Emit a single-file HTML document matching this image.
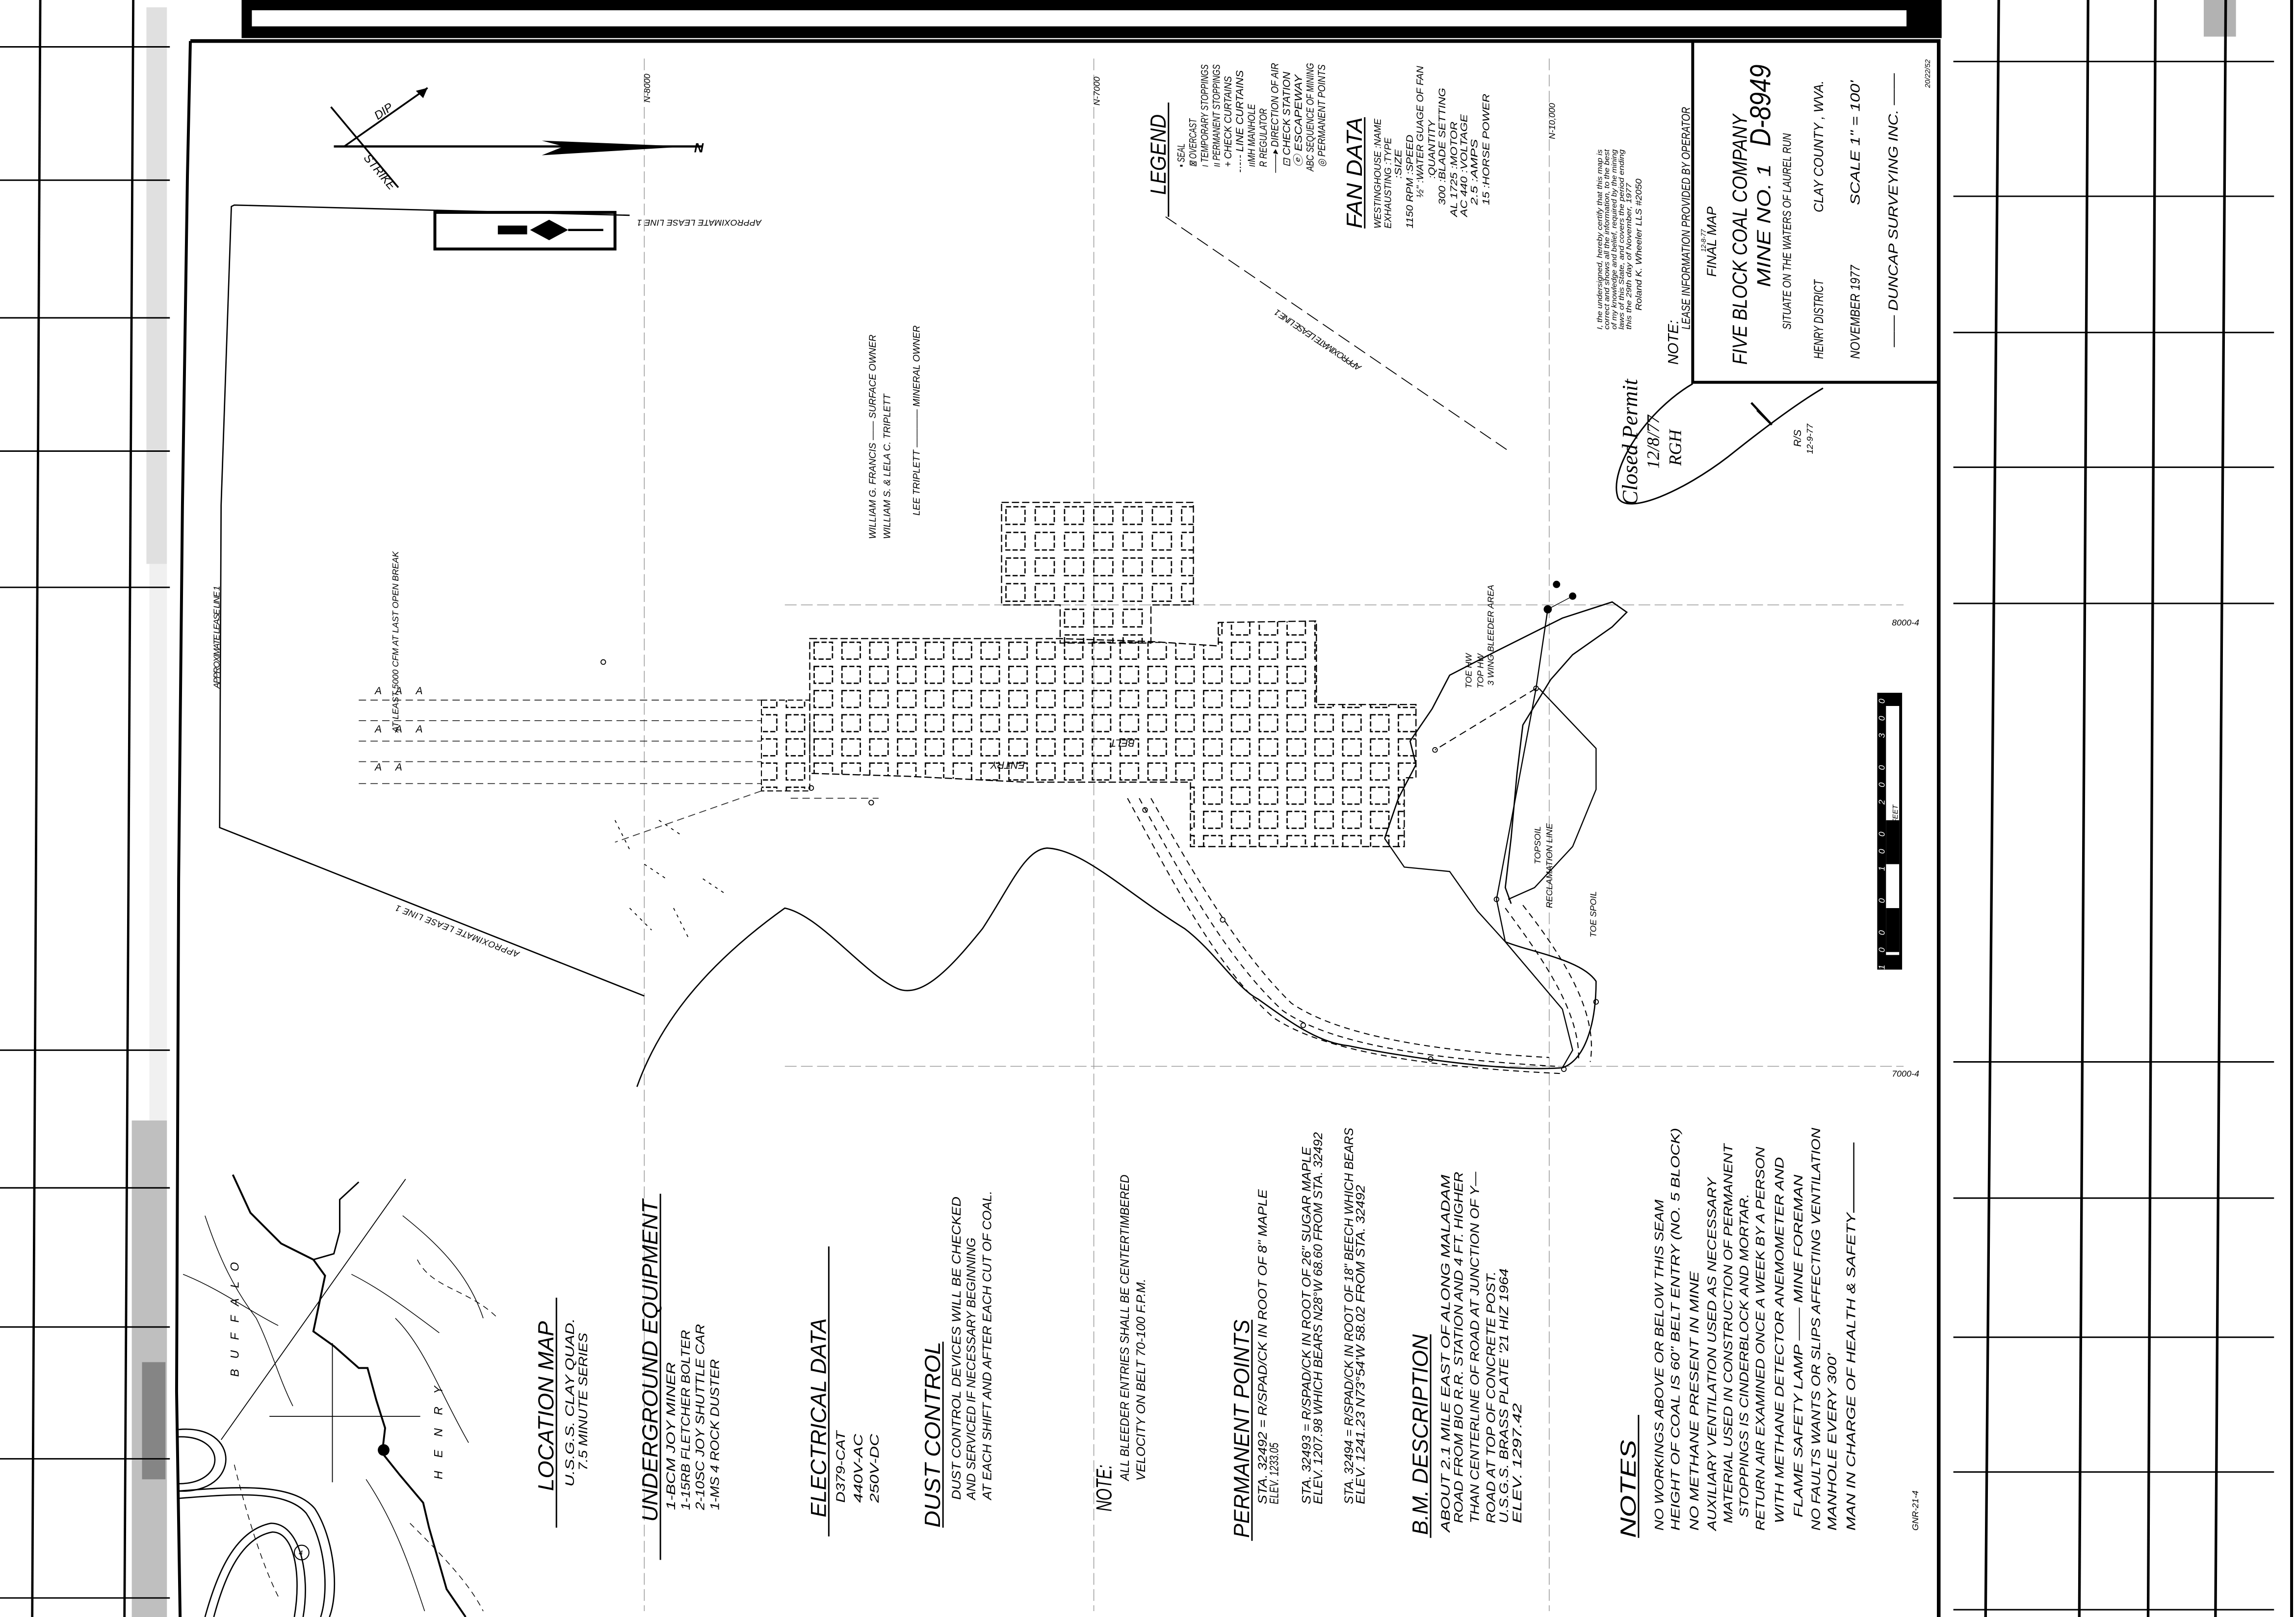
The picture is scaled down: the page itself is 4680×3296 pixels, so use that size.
<!DOCTYPE html>
<html><head><meta charset="utf-8">
<style>
html,body{margin:0;padding:0;background:#fff;}
svg{display:block;}
text{font-family:"Liberation Sans",sans-serif;font-style:italic;fill:#000;}
.h{font-size:15px;}
.b{font-size:8.5px;}
.s{font-size:6px;}
</style></head>
<body>
<svg width="4680" height="3296" viewBox="0 0 1568 1104" preserveAspectRatio="none" xmlns="http://www.w3.org/2000/svg">
<defs>
<pattern id="pil" x="553" y="436" width="19" height="16.5" patternUnits="userSpaceOnUse">
<rect x="3" y="2.5" width="12.5" height="11.5" fill="none" stroke="#000" stroke-width="0.9" stroke-dasharray="3.5 1.5"/>
</pattern>
<pattern id="pil2" x="684" y="343" width="20" height="17.5" patternUnits="userSpaceOnUse">
<rect x="3" y="3" width="13" height="12" fill="none" stroke="#000" stroke-width="0.9" stroke-dasharray="3.5 1.5"/>
</pattern>
</defs>
<rect width="1568" height="1104" fill="#fff"/>

<!-- left grid -->
<g stroke="#000" stroke-width="1.6">
<line x1="27.5" y1="0" x2="22" y2="1104"/>
<line x1="91" y1="0" x2="85" y2="1104"/>
</g>
<g stroke="#000" stroke-width="1">
<line x1="0" y1="32" x2="116" y2="32"/><line x1="0" y1="123" x2="116" y2="123"/>
<line x1="0" y1="217" x2="116" y2="217"/><line x1="0" y1="308" x2="116" y2="308"/>
<line x1="0" y1="401" x2="116" y2="401"/><line x1="0" y1="717" x2="116" y2="717"/>
<line x1="0" y1="811" x2="116" y2="811"/><line x1="0" y1="906" x2="116" y2="906"/>
<line x1="0" y1="996" x2="116" y2="996"/><line x1="0" y1="1091" x2="116" y2="1091"/>
</g>
<!-- smudge column -->
<rect x="100" y="5" width="14" height="380" fill="#000" opacity="0.12"/>
<rect x="102" y="385" width="12" height="380" fill="#000" opacity="0.06"/>
<rect x="90" y="765" width="24" height="339" fill="#000" opacity="0.25"/>
<rect x="97" y="930" width="16" height="80" fill="#000" opacity="0.3"/>

<!-- right grid -->
<g stroke="#000" stroke-width="1.8">
<line x1="1365" y1="0" x2="1356" y2="1104"/>
<line x1="1426" y1="0" x2="1420" y2="1104"/>
<line x1="1472" y1="0" x2="1467" y2="1104"/>
<line x1="1520" y1="0" x2="1513" y2="1104"/>
</g>
<g stroke="#000" stroke-width="1">
<line x1="1334" y1="42" x2="1553" y2="42"/><line x1="1334" y1="134" x2="1553" y2="134"/>
<line x1="1334" y1="227" x2="1553" y2="227"/><line x1="1334" y1="319" x2="1553" y2="319"/>
<line x1="1334" y1="412" x2="1553" y2="412"/><line x1="1334" y1="725" x2="1553" y2="725"/>
<line x1="1334" y1="818" x2="1553" y2="818"/><line x1="1334" y1="913" x2="1553" y2="913"/>
<line x1="1334" y1="1005" x2="1553" y2="1005"/><line x1="1334" y1="1099" x2="1553" y2="1099"/>
</g>
<line x1="1565" y1="0" x2="1565" y2="1104" stroke="#000" stroke-width="2"/>
<rect x="1505" y="0" width="22" height="25" fill="#000" opacity="0.3"/>

<!-- top band and frame -->
<rect x="165" y="0" width="1161" height="26" fill="#000"/>
<rect x="172" y="7" width="1130" height="11" fill="#fff"/>
<polyline points="130,28 1324,28 1324,1104" fill="none" stroke="#000" stroke-width="2.5"/>
<polyline points="130,28 128,120 124.6,345 122,600 120.6,950 123,1104" fill="none" stroke="#000" stroke-width="2"/>

<!-- coordinate lines -->
<g stroke="#000" stroke-width="0.5" stroke-dasharray="8 3" opacity="0.4">
<line x1="440" y1="40" x2="440" y2="1100"/>
<line x1="747" y1="40" x2="747" y2="1100"/>
<line x1="1058" y1="40" x2="1058" y2="1100"/>
<line x1="536" y1="413" x2="1300" y2="413"/>
<line x1="536" y1="728" x2="1300" y2="728"/>
</g>
<text class="s" transform="translate(444 70) rotate(-90)">N-8000</text>
<text class="s" transform="translate(751 72) rotate(-90)">N-7000</text>
<text class="s" transform="translate(1062 95) rotate(-90)">N-10,000</text>
<text class="s" x="1292" y="427">8000-4</text>
<text class="s" x="1292" y="735">7000-4</text>

<!-- north arrow / dip strike -->
<line x1="228" y1="100" x2="480" y2="100" stroke="#000" stroke-width="1.5"/>
<polygon points="370,96 470,100 370,106 385,100" fill="#000"/>
<text x="474" y="104" font-size="9" font-weight="bold" font-style="normal">N</text>
<line x1="226" y1="73" x2="272" y2="128" stroke="#000" stroke-width="1.2"/>
<line x1="235" y1="100" x2="292" y2="60" stroke="#000" stroke-width="1.2"/>
<polygon points="292,60 284,62 289,67" fill="#000"/>
<text font-size="8" transform="translate(258 82) rotate(-35)">DIP</text>
<text font-size="8" transform="translate(248 108) rotate(50)">STRIKE</text>
<rect x="297" y="145" width="123" height="25" fill="none" stroke="#000" stroke-width="2"/>
<polygon points="362,157 375,150 388,157 375,164" fill="#000"/>
<rect x="340" y="154" width="20" height="6" fill="#000"/>
<line x1="388" y1="157" x2="412" y2="157" stroke="#000" stroke-width="1.5"/>

<!-- lease lines -->
<polyline points="430,147 160,140 158,141 151,345 150,565 440,680" fill="none" stroke="#000" stroke-width="0.9"/>
<text class="s" transform="translate(150 470) rotate(-90)" textLength="70">APPROXIMATE LEASE LINE 1</text>
<text class="s" transform="translate(520 150) rotate(180)" textLength="85">APPROXIMATE LEASE LINE 1</text>
<text class="s" transform="translate(355 650) rotate(201)" textLength="90">APPROXIMATE LEASE LINE 1</text>
<line x1="796" y1="148" x2="1029" y2="307" stroke="#000" stroke-width="0.6" stroke-dasharray="9 4"/>
<text class="s" transform="translate(930 250) rotate(214)" textLength="70">APPROXIMATE LEASE LINE 1</text>

<!-- surface owner text -->
<text font-size="6.5" transform="translate(598 368) rotate(-90)">WILLIAM G. FRANCIS —— SURFACE OWNER</text>
<text font-size="6.5" transform="translate(608 368) rotate(-90)">WILLIAM S. &amp; LELA C. TRIPLETT</text>
<text font-size="6.5" transform="translate(628 352) rotate(-90)">LEE TRIPLETT ———— MINERAL OWNER</text>
<text class="s" transform="translate(272 500) rotate(-90)">AT LEAST 5000 CFM AT LAST OPEN BREAK</text>

<!-- workings -->
<polygon points="684,343 815,343 815,413 786,413 786,439 724,439 724,413 684,413" fill="url(#pil2)"/>
<polygon points="684,343 815,343 815,413 786,413 786,439 724,439 724,413 684,413" fill="none" stroke="#000" stroke-width="0.8" stroke-dasharray="5 2"/>
<polygon points="553,436 724,436 786,438 832,441 832,425 899,424 899,481 967,481 967,531 959,531 959,578 813,578 813,534 700,534 620,530 553,528" fill="url(#pil)"/>
<polygon points="553,436 724,436 786,438 832,441 832,425 899,424 899,481 967,481 967,531 959,531 959,578 813,578 813,534 700,534 620,530 553,528" fill="none" stroke="#000" stroke-width="0.8" stroke-dasharray="5 2"/>
<rect x="520" y="478" width="33" height="62" fill="url(#pil)"/>
<rect x="520" y="478" width="33" height="62" fill="none" stroke="#000" stroke-width="0.7" stroke-dasharray="4 2"/>
<g stroke="#000" stroke-width="0.6" stroke-dasharray="5 3" fill="none" opacity="0.8">
<line x1="245" y1="478" x2="520" y2="478"/><line x1="245" y1="492" x2="520" y2="492"/>
<line x1="245" y1="506" x2="520" y2="506"/><line x1="245" y1="520" x2="520" y2="520"/>
<line x1="245" y1="535" x2="520" y2="535"/>
<line x1="520" y1="540" x2="420" y2="575"/>
<line x1="540" y1="545" x2="600" y2="545"/>
</g>
<g class="s">
<text font-size="7" x="256" y="474">A</text><text font-size="7" x="270" y="474">A</text><text font-size="7" x="284" y="474">A</text>
<text font-size="7" x="256" y="500">A</text><text font-size="7" x="270" y="500">A</text><text font-size="7" x="284" y="500">A</text>
<text font-size="7" x="256" y="526">A</text><text font-size="7" x="270" y="526">A</text>
</g>
<g stroke="#000" stroke-width="0.6" stroke-dasharray="2 3">
<line x1="420" y1="560" x2="430" y2="580"/><line x1="440" y1="590" x2="455" y2="600"/><line x1="460" y1="620" x2="470" y2="640"/>
<line x1="450" y1="560" x2="465" y2="570"/><line x1="480" y1="600" x2="495" y2="610"/><line x1="430" y1="620" x2="445" y2="635"/>
</g>
<text font-size="7" transform="translate(700 520) rotate(180)">ENTRY</text>
<text font-size="7" transform="translate(775 505) rotate(180)">BELT</text>

<!-- tail polygon / outcrop -->
<polyline points="945.6,572.5 955,545 967,522 963,506 978,484 990,461 1021,445 1067,422 1101,411 1111,418 1101,428 1074,447 1059,464 1040,495 1036,528 1032,572 1028,606 1032,617" fill="none" stroke="#000" stroke-width="0.9"/>
<polyline points="1051,470 1090,511 1090,539 1074,578 1048,606 1030,614" fill="none" stroke="#000" stroke-width="0.8"/>
<polyline points="945.6,572.5 959,592 990,595 1009,622 1028,643 1067,689 1074,717 1067,729" fill="none" stroke="#000" stroke-width="0.8"/>
<polyline points="1057,416 1049,470 1022,614 1028,643" fill="none" stroke="#000" stroke-width="0.8"/>
<line x1="1049" y1="470" x2="980" y2="512" stroke="#000" stroke-width="0.7" stroke-dasharray="5 3"/>
<circle cx="1057" cy="416" r="2.8" fill="#000"/><circle cx="1063" cy="399" r="2.5" fill="#000"/><circle cx="1074" cy="407" r="2.5" fill="#000"/>
<line x1="1057" y1="416" x2="1074" y2="407" stroke="#000" stroke-width="0.5"/>
<text class="s" transform="translate(1052 590) rotate(-90)">TOPSOIL</text>
<text class="s" transform="translate(1060 620) rotate(-90)">RECLAMATION LINE</text>
<text class="s" transform="translate(1090 640) rotate(-90)">TOE SPOIL</text>
<text class="s" transform="translate(1005 470) rotate(-90)">TOE HW</text>
<text class="s" transform="translate(1013 470) rotate(-90)">TOP HW</text>
<text class="s" transform="translate(1020 468) rotate(-90)">3 WING BLEEDER AREA</text>

<!-- big curve -->
<path d="M435,742 C450,700 480,660 536,620 C560,625 590,665 613,675 C630,682 650,660 671,634 C690,605 700,580 715,579 C740,580 770,610 809,634 C830,650 845,675 859,682 C880,697 900,712 921,714 C960,722 1030,732 1067,729 C1082,724 1090,700 1090,670 C1080,655 1045,650 1028,643" fill="none" stroke="#000" stroke-width="0.9"/>
<g fill="none" stroke="#000" stroke-width="0.7" stroke-dasharray="4 3">
<path d="M770,545 C800,600 830,660 870,695 C900,715 960,728 1067,733"/>
<path d="M778,545 C808,600 838,655 876,690 C905,710 960,722 1062,728"/>
<path d="M786,545 C816,598 846,650 882,685 C910,704 965,717 1058,722"/>
<path d="M1028,620 C1050,650 1080,690 1078,725"/>
<path d="M1040,618 C1065,650 1092,690 1086,725"/>
</g>
<g fill="none" stroke="#000" stroke-width="0.6">
<circle cx="782" cy="553" r="1.6"/><circle cx="835" cy="628" r="1.6"/><circle cx="890" cy="700" r="1.6"/>
<circle cx="977" cy="723" r="1.6"/><circle cx="1068" cy="730" r="1.6"/><circle cx="1090" cy="684" r="1.6"/>
<circle cx="1022" cy="614" r="1.6"/><circle cx="980" cy="512" r="1.6"/><circle cx="1049" cy="470" r="1.6"/>
<circle cx="554" cy="538" r="1.6"/><circle cx="595" cy="548" r="1.6"/><circle cx="412" cy="452" r="1.6"/>
</g>

<!-- scale bar -->
<rect x="1282" y="473" width="17" height="189" fill="#000"/>
<rect x="1288" y="482" width="9" height="170" fill="#fff"/>
<rect x="1288" y="560" width="9" height="30" fill="#000"/>
<rect x="1288" y="620" width="9" height="30" fill="#000"/>
<text font-size="6" transform="translate(1287 662) rotate(-90)" textLength="185" style="fill:#fff">100 0 100 200 300</text>
<text font-size="5" transform="translate(1296 580) rotate(-90)">SCALE FEET</text>

<!-- location map -->
<g fill="none" stroke="#000">
<polyline stroke-width="1.3" points="159,802 171,828 192,849 214,860 222,871 218,890 214,909 228,919 245,934 251,934 257,956 263,975 261,992 273,1007 289,1026 293,1043 305,1085 318,1104"/>
<polyline stroke-width="1" points="245,807 232,819 232,841 228,856 214,860"/>
<path stroke-width="0.9" d="M122,976 C165,972 165,1020 122,1018 M122,981 C155,980 155,1013 122,1013"/>
<path stroke-width="0.9" d="M122,1018 C160,1015 200,1012 215,1030 C228,1050 232,1085 225,1104"/>
<path stroke-width="0.9" d="M122,1023 C160,1020 195,1017 209,1033 C222,1052 225,1085 219,1104"/>
<path stroke-width="0.9" d="M140,1104 C148,1075 160,1045 185,1040 C205,1040 212,1075 207,1104"/>
<path stroke-width="0.9" d="M146,1104 C153,1078 164,1050 186,1046 C201,1046 206,1075 201,1104"/>
<line stroke-width="0.6" x1="151" y1="983" x2="277" y2="805"/>
<line stroke-width="0.6" x1="184" y1="967" x2="287" y2="967"/>
<line stroke-width="0.6" x1="227" y1="917" x2="227" y2="1012"/>
<g stroke-width="0.5">
<path d="M140,830 C150,860 160,880 175,900 C185,920 190,940 200,960"/>
<path d="M125,870 C150,880 170,895 190,905"/>
<path d="M240,870 C260,880 280,895 300,910"/>
<path d="M270,900 C290,920 300,950 320,985"/>
<path d="M275,830 C300,850 320,870 330,900"/>
<path d="M250,1010 C270,1040 280,1070 290,1100"/>
<path d="M160,1000 C170,1040 180,1070 190,1090" stroke-dasharray="4 3"/>
<path d="M280,1040 C300,1060 320,1080 330,1100" stroke-dasharray="4 3"/>
<path d="M285,860 C295,880 320,880 340,900" stroke-dasharray="4 3"/>
</g>
</g>
<circle cx="262" cy="990" r="4" fill="#000"/>
<circle cx="206" cy="1060" r="5" fill="none" stroke="#000" stroke-width="0.7"/>
<text font-size="5" x="204" y="1062">4</text>
<text font-size="8" font-style="normal" letter-spacing="7" transform="translate(163 940) rotate(-90)">BUFFALO</text>
<text font-size="8" font-style="normal" letter-spacing="9" transform="translate(302 1010) rotate(-90)">HENRY</text>

<!-- bottom text columns -->
<text class="h" transform="translate(378 1018) rotate(-90)" textLength="116" lengthAdjust="spacingAndGlyphs">LOCATION MAP</text>
<line x1="380" y1="886" x2="380" y2="1043" stroke="#000" stroke-width="1"/>
<text class="b" transform="translate(392 1015) rotate(-90)" textLength="115" lengthAdjust="spacingAndGlyphs">U.S.G.S.   CLAY   QUAD.</text>
<text class="b" transform="translate(401 1004) rotate(-90)" textLength="94" lengthAdjust="spacingAndGlyphs">7.5 MINUTE SERIES</text>

<text class="h" transform="translate(449 1039) rotate(-90)" textLength="220" lengthAdjust="spacingAndGlyphs">UNDERGROUND EQUIPMENT</text>
<line x1="451" y1="815" x2="451" y2="1065" stroke="#000" stroke-width="1"/>
<text class="b" transform="translate(461 1031) rotate(-90)" textLength="101" lengthAdjust="spacingAndGlyphs">1-BCM JOY MINER</text>
<text class="b" transform="translate(471 1031) rotate(-90)" textLength="123" lengthAdjust="spacingAndGlyphs">1-15RB FLETCHER BOLTER</text>
<text class="b" transform="translate(481 1031) rotate(-90)" textLength="127" lengthAdjust="spacingAndGlyphs">2-10SC JOY SHUTTLE CAR</text>
<text class="b" transform="translate(491 1031) rotate(-90)" textLength="103" lengthAdjust="spacingAndGlyphs">1-MS 4 ROCK DUSTER</text>

<text class="h" transform="translate(564 1036) rotate(-90)" textLength="136" lengthAdjust="spacingAndGlyphs">ELECTRICAL DATA</text>
<line x1="566" y1="851" x2="566" y2="1049" stroke="#000" stroke-width="1"/>
<text class="b" transform="translate(577 1026) rotate(-90)" textLength="49" lengthAdjust="spacingAndGlyphs">D379-CAT</text>
<text class="b" transform="translate(589 1026) rotate(-90)" textLength="47" lengthAdjust="spacingAndGlyphs">440V-AC</text>
<text class="b" transform="translate(600 1026) rotate(-90)" textLength="47" lengthAdjust="spacingAndGlyphs">250V-DC</text>

<text class="h" transform="translate(642 1043) rotate(-90)" textLength="127" lengthAdjust="spacingAndGlyphs">DUST CONTROL</text>
<line x1="644" y1="916" x2="644" y2="1043" stroke="#000" stroke-width="1"/>
<text class="b" transform="translate(656 1024) rotate(-90)" textLength="207" lengthAdjust="spacingAndGlyphs">DUST CONTROL DEVICES WILL BE CHECKED</text>
<text class="b" transform="translate(666 1024) rotate(-90)" textLength="179" lengthAdjust="spacingAndGlyphs">AND SERVICED IF NECESSARY BEGINNING</text>
<text class="b" transform="translate(677 1024) rotate(-90)" textLength="211" lengthAdjust="spacingAndGlyphs">AT EACH SHIFT AND AFTER EACH CUT OF COAL.</text>

<text class="h" transform="translate(759 1032) rotate(-90)" textLength="32" lengthAdjust="spacingAndGlyphs">NOTE:</text>
<text class="b" transform="translate(771 1011) rotate(-90)" textLength="209" lengthAdjust="spacingAndGlyphs">ALL BLEEDER ENTRIES SHALL BE CENTERTIMBERED</text>
<text class="b" transform="translate(782 1011) rotate(-90)" textLength="138" lengthAdjust="spacingAndGlyphs">VELOCITY ON BELT 70-100 F.P.M.</text>

<text class="h" transform="translate(853 1050) rotate(-90)" textLength="149" lengthAdjust="spacingAndGlyphs">PERMANENT POINTS</text>
<line x1="855" y1="901" x2="855" y2="1052" stroke="#000" stroke-width="1"/>
<text class="b" transform="translate(865 1027) rotate(-90)" textLength="215" lengthAdjust="spacingAndGlyphs">STA. 32492 = R/SPAD/CK IN ROOT OF 8" MAPLE</text>
<text class="b" font-size="7" transform="translate(873 1027) rotate(-90)" textLength="42" lengthAdjust="spacingAndGlyphs">ELEV. 1233.05</text>
<text class="b" transform="translate(895 1027) rotate(-90)" textLength="244" lengthAdjust="spacingAndGlyphs">STA. 32493 = R/SPAD/CK IN ROOT OF 26" SUGAR MAPLE</text>
<text class="b" transform="translate(903 1027) rotate(-90)" textLength="254" lengthAdjust="spacingAndGlyphs">ELEV. 1207.98  WHICH BEARS N28°W 68.60 FROM STA. 32492</text>
<text class="b" transform="translate(924 1027) rotate(-90)" textLength="257" lengthAdjust="spacingAndGlyphs">STA. 32494 = R/SPAD/CK IN ROOT OF 18" BEECH WHICH BEARS</text>
<text class="b" transform="translate(932 1027) rotate(-90)" textLength="218" lengthAdjust="spacingAndGlyphs">ELEV. 1241.23  N73°54'W 58.02 FROM STA. 32492</text>

<text class="h" transform="translate(975 1048) rotate(-90)" textLength="137" lengthAdjust="spacingAndGlyphs">B.M. DESCRIPTION</text>
<line x1="977" y1="911" x2="977" y2="1050" stroke="#000" stroke-width="1"/>
<text class="b" transform="translate(990 1046) rotate(-90)" textLength="244" lengthAdjust="spacingAndGlyphs">ABOUT 2.1 MILE EAST OF ALONG MALADAM</text>
<text class="b" transform="translate(999 1040) rotate(-90)" textLength="240" lengthAdjust="spacingAndGlyphs">ROAD FROM BIO R.R. STATION AND 4 FT. HIGHER</text>
<text class="b" transform="translate(1010 1040) rotate(-90)" textLength="240" lengthAdjust="spacingAndGlyphs">THAN CENTERLINE OF ROAD AT JUNCTION OF Y—</text>
<text class="b" transform="translate(1021 1040) rotate(-90)" textLength="172" lengthAdjust="spacingAndGlyphs">ROAD AT TOP OF CONCRETE POST.</text>
<text class="b" transform="translate(1030 1040) rotate(-90)" textLength="174" lengthAdjust="spacingAndGlyphs">U.S.G.S. BRASS PLATE '21 HIZ 1964</text>
<text class="b" transform="translate(1039 1040) rotate(-90)" textLength="82" lengthAdjust="spacingAndGlyphs">ELEV. 1297.42</text>

<text class="h" transform="translate(1117 1050) rotate(-90)" textLength="67" lengthAdjust="spacingAndGlyphs">NOTES</text>
<line x1="1119" y1="966" x2="1119" y2="1050" stroke="#000" stroke-width="1"/>
<text class="b" transform="translate(1136 1045) rotate(-90)" textLength="226" lengthAdjust="spacingAndGlyphs">NO WORKINGS ABOVE OR BELOW THIS SEAM</text>
<text class="b" transform="translate(1147 1045) rotate(-90)" textLength="275" lengthAdjust="spacingAndGlyphs">HEIGHT OF COAL IS 60" BELT ENTRY (NO. 5 BLOCK)</text>
<text class="b" transform="translate(1160 1045) rotate(-90)" textLength="177" lengthAdjust="spacingAndGlyphs">NO METHANE PRESENT IN MINE</text>
<text class="b" transform="translate(1172 1045) rotate(-90)" textLength="241" lengthAdjust="spacingAndGlyphs">AUXILIARY VENTILATION USED AS NECESSARY</text>
<text class="b" transform="translate(1183 1040) rotate(-90)" textLength="259" lengthAdjust="spacingAndGlyphs">MATERIAL USED IN CONSTRUCTION OF PERMANENT</text>
<text class="b" transform="translate(1194 1036) rotate(-90)" textLength="221" lengthAdjust="spacingAndGlyphs">STOPPINGS IS CINDERBLOCK AND MORTAR.</text>
<text class="b" transform="translate(1205 1045) rotate(-90)" textLength="262" lengthAdjust="spacingAndGlyphs">RETURN AIR EXAMINED ONCE A WEEK BY A PERSON</text>
<text class="b" transform="translate(1218 1040) rotate(-90)" textLength="250" lengthAdjust="spacingAndGlyphs">WITH METHANE DETECTOR ANEMOMETER AND</text>
<text class="b" transform="translate(1231 1036) rotate(-90)" textLength="234" lengthAdjust="spacingAndGlyphs">FLAME SAFETY LAMP —— MINE FOREMAN</text>
<text class="b" transform="translate(1243 1045) rotate(-90)" textLength="275" lengthAdjust="spacingAndGlyphs">NO FAULTS WANTS OR SLIPS AFFECTING VENTILATION</text>
<text class="b" transform="translate(1254 1045) rotate(-90)" textLength="121" lengthAdjust="spacingAndGlyphs">MANHOLE EVERY 300'</text>
<text class="b" transform="translate(1267 1045) rotate(-90)" textLength="217" lengthAdjust="spacingAndGlyphs">MAN IN CHARGE OF HEALTH &amp; SAFETY</text>
<line x1="1266" y1="828" x2="1266" y2="780" stroke="#000" stroke-width="0.8"/>
<text class="s" transform="translate(1310 1045) rotate(-90)">GNR-21-4</text>

<!-- legend -->
<text class="h" transform="translate(796 133) rotate(-90)" textLength="55" lengthAdjust="spacingAndGlyphs">LEGEND</text>
<line x1="798" y1="70" x2="798" y2="148" stroke="#000" stroke-width="1"/>
<g font-size="7">
<text transform="translate(809 114) rotate(-90)" textLength="16" lengthAdjust="spacingAndGlyphs">▪ SEAL</text>
<text transform="translate(817 114) rotate(-90)" textLength="33" lengthAdjust="spacingAndGlyphs">⊠ OVERCAST</text>
<text transform="translate(825 114) rotate(-90)" textLength="70" lengthAdjust="spacingAndGlyphs">ı TEMPORARY STOPPINGS</text>
<text transform="translate(833 114) rotate(-90)" textLength="70" lengthAdjust="spacingAndGlyphs">ıı PERMANENT STOPPINGS</text>
<text transform="translate(841 114) rotate(-90)" textLength="62" lengthAdjust="spacingAndGlyphs">+ CHECK CURTAINS</text>
<text transform="translate(849 118) rotate(-90)" textLength="70" lengthAdjust="spacingAndGlyphs">-·-·- LINE CURTAINS</text>
<text transform="translate(857 114) rotate(-90)" textLength="43" lengthAdjust="spacingAndGlyphs">ııMH MANHOLE</text>
<text transform="translate(865 114) rotate(-90)" textLength="40" lengthAdjust="spacingAndGlyphs">R REGULATOR</text>
<text transform="translate(873 118) rotate(-90)" textLength="75" lengthAdjust="spacingAndGlyphs">——▸ DIRECTION OF AIR</text>
<text transform="translate(881 114) rotate(-90)" textLength="65" lengthAdjust="spacingAndGlyphs">⊡ CHECK STATION</text>
<text transform="translate(889 114) rotate(-90)" textLength="63" lengthAdjust="spacingAndGlyphs">ⓔ ESCAPEWAY</text>
<text transform="translate(897 117) rotate(-90)" textLength="74" lengthAdjust="spacingAndGlyphs">ABC SEQUENCE OF MINING</text>
<text transform="translate(905 114) rotate(-90)" textLength="70" lengthAdjust="spacingAndGlyphs">◎ PERMANENT POINTS</text>
</g>

<!-- fan data -->
<text class="h" transform="translate(930 156) rotate(-90)" textLength="76" lengthAdjust="spacingAndGlyphs">FAN DATA</text>
<line x1="932" y1="80" x2="932" y2="156" stroke="#000" stroke-width="1"/>
<g font-size="6.5">
<text transform="translate(943 156) rotate(-90)" textLength="75" lengthAdjust="spacingAndGlyphs">WESTINGHOUSE :NAME</text>
<text transform="translate(950 156) rotate(-90)" textLength="62" lengthAdjust="spacingAndGlyphs">EXHAUSTING   :TYPE</text>
<text transform="translate(957 122) rotate(-90)" textLength="20" lengthAdjust="spacingAndGlyphs">:SIZE</text>
<text transform="translate(965 156) rotate(-90)" textLength="64" lengthAdjust="spacingAndGlyphs">1150 RPM  :SPEED</text>
<text transform="translate(972 135) rotate(-90)" textLength="90" lengthAdjust="spacingAndGlyphs">½"  :WATER GUAGE OF FAN</text>
<text transform="translate(980 122) rotate(-90)" textLength="40" lengthAdjust="spacingAndGlyphs">:QUANTITY</text>
<text transform="translate(987 140) rotate(-90)" textLength="80" lengthAdjust="spacingAndGlyphs">300  :BLADE SETTING</text>
<text transform="translate(995 148) rotate(-90)" textLength="65" lengthAdjust="spacingAndGlyphs">AL 1725 :MOTOR</text>
<text transform="translate(1002 148) rotate(-90)" textLength="70" lengthAdjust="spacingAndGlyphs">AC 440 :VOLTAGE</text>
<text transform="translate(1009 140) rotate(-90)" textLength="45" lengthAdjust="spacingAndGlyphs">2.5 :AMPS</text>
<text transform="translate(1017 140) rotate(-90)" textLength="76" lengthAdjust="spacingAndGlyphs">15 :HORSE POWER</text>
</g>

<!-- certification -->
<g font-size="4.8" font-style="normal" style="font-family:'Liberation Mono',monospace">
<text transform="translate(1094 225) rotate(-90)" textLength="123" lengthAdjust="spacingAndGlyphs">I, the undersigned, hereby certify that this map is</text>
<text transform="translate(1099 225) rotate(-90)" textLength="123" lengthAdjust="spacingAndGlyphs">correct and shows all the information, to the best</text>
<text transform="translate(1104 225) rotate(-90)" textLength="123" lengthAdjust="spacingAndGlyphs">of my knowledge and belief, required by the mining</text>
<text transform="translate(1109 225) rotate(-90)" textLength="123" lengthAdjust="spacingAndGlyphs">laws of this State, and covers the period ending</text>
<text transform="translate(1114 225) rotate(-90)" textLength="100" lengthAdjust="spacingAndGlyphs">this the 29th day of November, 1977</text>
</g>
<text font-size="6" transform="translate(1121 212) rotate(-90)" textLength="90" lengthAdjust="spacingAndGlyphs">Roland K. Wheeler LLS #2050</text>

<!-- title block -->
<polyline points="1156,28 1156,261 1324,261" fill="none" stroke="#000" stroke-width="2"/>
<text font-size="10" transform="translate(1146 249) rotate(-90)">NOTE:</text>
<text font-size="8" transform="translate(1154 225) rotate(-90)" textLength="152" lengthAdjust="spacingAndGlyphs">LEASE INFORMATION PROVIDED BY OPERATOR</text>
<text font-size="9" transform="translate(1172 189) rotate(-90)" textLength="48" lengthAdjust="spacingAndGlyphs">FINAL MAP</text>
<text font-size="4.5" transform="translate(1165 172) rotate(-90)">12-8-77</text>
<text font-size="14" transform="translate(1193 249) rotate(-90)" textLength="171" lengthAdjust="spacingAndGlyphs">FIVE BLOCK COAL COMPANY</text>
<text font-size="13" transform="translate(1209 196) rotate(-90)" textLength="84" lengthAdjust="spacingAndGlyphs">MINE NO. 1</text>
<text font-size="20" transform="translate(1209 100) rotate(-90)" textLength="56" lengthAdjust="spacingAndGlyphs">D-8949</text>
<text font-size="8" transform="translate(1223 225) rotate(-90)" textLength="134" lengthAdjust="spacingAndGlyphs">SITUATE ON THE WATERS OF LAUREL RUN</text>
<text font-size="9" transform="translate(1245 245) rotate(-90)" textLength="54" lengthAdjust="spacingAndGlyphs">HENRY DISTRICT</text>
<text font-size="9" transform="translate(1245 145) rotate(-90)" textLength="90" lengthAdjust="spacingAndGlyphs">CLAY   COUNTY ,  WVA.</text>
<text font-size="9" transform="translate(1270 245) rotate(-90)" textLength="64" lengthAdjust="spacingAndGlyphs">NOVEMBER 1977</text>
<text font-size="9" transform="translate(1270 140) rotate(-90)" textLength="85" lengthAdjust="spacingAndGlyphs">SCALE 1" = 100'</text>
<text font-size="9" transform="translate(1296 237) rotate(-90)" textLength="187" lengthAdjust="spacingAndGlyphs">—— DUNCAP   SURVEYING   INC. ——</text>
<text font-size="5" transform="translate(1318 60) rotate(-90)">20/22/52</text>

<!-- signature loop -->
<path d="M1156,262 C1125,280 1098,320 1105,340 C1112,352 1150,335 1180,312 C1205,292 1228,275 1245,265" fill="none" stroke="#000" stroke-width="1"/>
<text font-size="15" style="font-family:'Liberation Serif',serif" transform="translate(1118 345) rotate(-90)">Closed Permit</text>
<text font-size="12" style="font-family:'Liberation Serif',serif" transform="translate(1133 320) rotate(-90)">12/8/77</text>
<text font-size="12" style="font-family:'Liberation Serif',serif" transform="translate(1148 318) rotate(-90)">RGH</text>
<text font-size="7" transform="translate(1230 305) rotate(-90)">R/S</text>
<text font-size="6" transform="translate(1238 310) rotate(-90)">12-9-77</text>
<path d="M1196,275 L1210,290 L1200,280" fill="none" stroke="#000" stroke-width="1.5"/>
</svg>
</body></html>
